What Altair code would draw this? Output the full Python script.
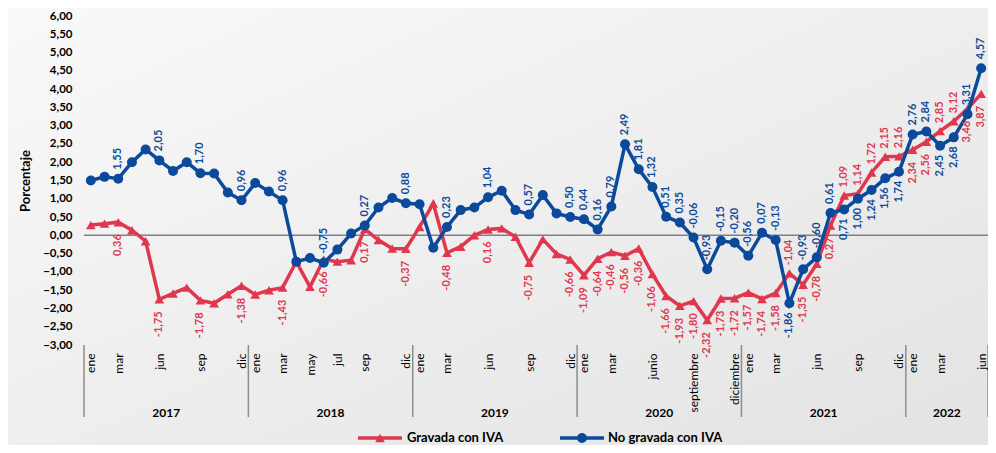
import altair as alt
import pandas as pd

# ---------------- data ----------------
grav = [0.28, 0.32, 0.36, 0.14, -0.16, -1.75, -1.59, -1.43, -1.78, -1.86, -1.61, -1.38,
        -1.62, -1.50, -1.43, -0.72, -1.41, -0.66, -0.72, -0.68, 0.17, -0.13, -0.36, -0.37,
        0.23, 0.87, -0.48, -0.31, 0.00, 0.16, 0.19, -0.04, -0.75, -0.11, -0.51, -0.66,
        -1.09, -0.64, -0.46, -0.56, -0.36, -1.06, -1.66, -1.93, -1.80, -2.32, -1.73, -1.72,
        -1.57, -1.74, -1.58, -1.04, -1.35, -0.78, 0.27, 1.09, 1.14, 1.72, 2.15, 2.16,
        2.34, 2.56, 2.85, 3.12, 3.46, 3.87]
nograv = [1.50, 1.60, 1.55, 2.00, 2.35, 2.05, 1.76, 2.00, 1.70, 1.69, 1.17, 0.96,
          1.43, 1.20, 0.96, -0.72, -0.62, -0.75, -0.39, 0.05, 0.27, 0.76, 1.02, 0.88,
          0.85, -0.34, 0.23, 0.69, 0.76, 1.04, 1.22, 0.69, 0.57, 1.10, 0.60, 0.50,
          0.44, 0.16, 0.79, 2.49, 1.81, 1.32, 0.51, 0.35, -0.06, -0.93, -0.15, -0.20,
          -0.56, 0.07, -0.13, -1.86, -0.93, -0.60, 0.61, 0.71, 1.00, 1.24, 1.56, 1.74,
          2.76, 2.84, 2.45, 2.68, 3.31, 4.57]
month_labels = ["ene", "", "mar", "", "", "jun", "", "", "sep", "", "", "dic",
                "ene", "", "mar", "", "may", "", "jul", "", "sep", "", "", "dic",
                "ene", "", "mar", "", "", "jun", "", "", "sep", "", "", "dic",
                "ene", "", "mar", "", "", "junio", "", "", "septiembre", "", "", "diciembre",
                "ene", "", "mar", "", "", "jun", "", "", "sep", "", "", "dic",
                "ene", "", "mar", "", "", "jun"]
years = ["2017", "2018", "2019", "2020", "2021", "2022"]
year_first = [0, 12, 24, 36, 48, 60]
year_last = [11, 23, 35, 47, 59, 65]
# labelled points: "main" = blue above / red below ; "flip" = blue below / red above
label_main = [2, 5, 8, 11, 14, 17, 20, 23, 26, 29, 32, 35, 36, 37, 38, 39, 40, 41, 42,
              43, 44, 45, 46, 47, 48, 49, 50, 52, 53, 54, 60, 61, 64, 65]
label_flip = [51, 55, 56, 57, 58, 59, 62, 63]

RED = "#E0374F"
BLUE = "#0B4A9B"
FONT = "Lato"
W, H = 904, 329


def fmt(v):
    return f"{v:.2f}".replace(".", ",")


rows = []
for i in range(len(grav)):
    for name, vals in (("grav", grav), ("nograv", nograv)):
        v = vals[i]
        pos = ""
        if i in label_main:
            pos = "above" if name == "nograv" else "below"
        elif i in label_flip:
            pos = "below" if name == "nograv" else "above"
        rows.append({"i": i, "v": v, "s": name, "t": fmt(v), "pos": pos})
df = pd.DataFrame(rows)

years_df = pd.DataFrame({"year": years,
                         "i": [(a + b) / 2 for a, b in zip(year_first, year_last)]})
sep_df = pd.DataFrame({"i": [year_first[0] - 0.5] + [b + 0.5 for b in year_last]})
zero_df = pd.DataFrame({"v": [0.0]})
dummy = pd.DataFrame({"k": [0]})

label_arr = "[" + ",".join("'" + m + "'" for m in month_labels) + "]"

X = alt.X("i:Q",
          scale=alt.Scale(domain=[-0.5, 65.5], nice=False, zero=False),
          axis=alt.Axis(values=list(range(66)), labelExpr=f"{label_arr}[datum.value]",
                        labelAngle=270, labelAlign="right", labelBaseline="middle",
                        labelPadding=8, labelFontSize=12, labelColor="#000000",
                        labelFont=FONT, labelOverlap=False, labelFlush=False,
                        domain=False, ticks=False, grid=False, title=None, zindex=1))
Y = alt.Y("v:Q",
          scale=alt.Scale(domain=[-3, 6], nice=False, zero=False),
          axis=alt.Axis(values=[x / 2 for x in range(-6, 13)],
                        labelExpr="replace(format(datum.value, '.2f'), '.', ',')",
                        labelFontSize=11.5, labelFontWeight="bold", labelColor="#000000",
                        labelFont=FONT, labelPadding=12, labelOverlap=False, labelFlush=False,
                        domain=False, ticks=False, grid=False,
                        title="Porcentaje", titleFont=FONT, titleFontSize=13,
                        titleFontWeight="bold", titleColor="#000000", titlePadding=10,
                        zindex=1))

bg = alt.Chart(dummy).mark_rect(
    color=alt.Gradient(gradient="linear",
                       stops=[alt.GradientStop(color="#f9f9f9", offset=0),
                              alt.GradientStop(color="#e3e3e3", offset=1)],
                       x1=0, y1=0, x2=1, y2=1)
).encode(x=alt.value(-76), x2=alt.value(W), y=alt.value(-8), y2=alt.value(H + 100))

zero = alt.Chart(zero_df).mark_rule(color="#808080", strokeWidth=1.5).encode(y=Y)

seps = alt.Chart(sep_df).mark_rule(color="#8c8c8c", strokeWidth=1.5).encode(
    x=X, y=alt.value(H), y2=alt.value(H + 72))

year_txt = alt.Chart(years_df).mark_text(
    font=FONT, fontSize=12, fontWeight="bold", color="#000000", baseline="middle"
).encode(x=X, y=alt.value(H + 68), text="year:N")

base = alt.Chart(df)
red_line = base.transform_filter("datum.s == 'grav'").mark_line(
    color=RED, strokeWidth=3.5).encode(x=X, y=Y)
red_pts = base.transform_filter("datum.s == 'grav'").mark_point(
    shape="triangle-up", filled=True, size=95, color=RED, opacity=1).encode(x=X, y=Y)
blue_line = base.transform_filter("datum.s == 'nograv'").mark_line(
    color=BLUE, strokeWidth=3.5).encode(x=X, y=Y)
blue_pts = base.transform_filter("datum.s == 'nograv'").mark_point(
    shape="circle", filled=True, size=100, color=BLUE, opacity=1).encode(x=X, y=Y)


def labels(series, pos, color, dx):
    return base.transform_filter(
        f"datum.s == '{series}' && datum.pos == '{pos}'"
    ).mark_text(angle=270, align="left" if dx > 0 else "right", baseline="middle",
                dx=dx, font=FONT, fontSize=11, fontWeight="bold", color=color
                ).encode(x=X, y=Y, text="t:N")


lab_layers = [labels("nograv", "above", BLUE, 9), labels("nograv", "below", BLUE, -9),
              labels("grav", "below", RED, -12), labels("grav", "above", RED, 8)]

# legend
LY = H + 93
leg = [
    alt.Chart(dummy).mark_rule(color=RED, strokeWidth=3.5).encode(
        x=alt.value(274), x2=alt.value(318), y=alt.value(LY)),
    alt.Chart(dummy).mark_point(shape="triangle-up", filled=True, size=95, color=RED,
                                opacity=1).encode(x=alt.value(296), y=alt.value(LY)),
    alt.Chart(dummy).mark_text(align="left", baseline="middle", font=FONT, fontSize=13,
                               fontWeight="bold", color="#000000").encode(
        x=alt.value(323), y=alt.value(LY), text=alt.value("Gravada con IVA")),
    alt.Chart(dummy).mark_rule(color=BLUE, strokeWidth=3.5).encode(
        x=alt.value(476), x2=alt.value(520), y=alt.value(LY)),
    alt.Chart(dummy).mark_point(shape="circle", filled=True, size=100, color=BLUE,
                                opacity=1).encode(x=alt.value(498), y=alt.value(LY)),
    alt.Chart(dummy).mark_text(align="left", baseline="middle", font=FONT, fontSize=13,
                               fontWeight="bold", color="#000000").encode(
        x=alt.value(524), y=alt.value(LY), text=alt.value("No gravada con IVA")),
]

chart = alt.layer(
    bg, zero, seps, year_txt, red_line, red_pts, blue_line, blue_pts, *lab_layers, *leg
).properties(
    width=W, height=H,
    padding={"left": 76, "top": 8, "right": 0, "bottom": 100},
    autosize=alt.AutoSizeParams(type="none"),
    background="#eeeeee",
).configure_view(stroke=None)

chart.save("out.html", embed_options={"renderer": "svg", "actions": False})
